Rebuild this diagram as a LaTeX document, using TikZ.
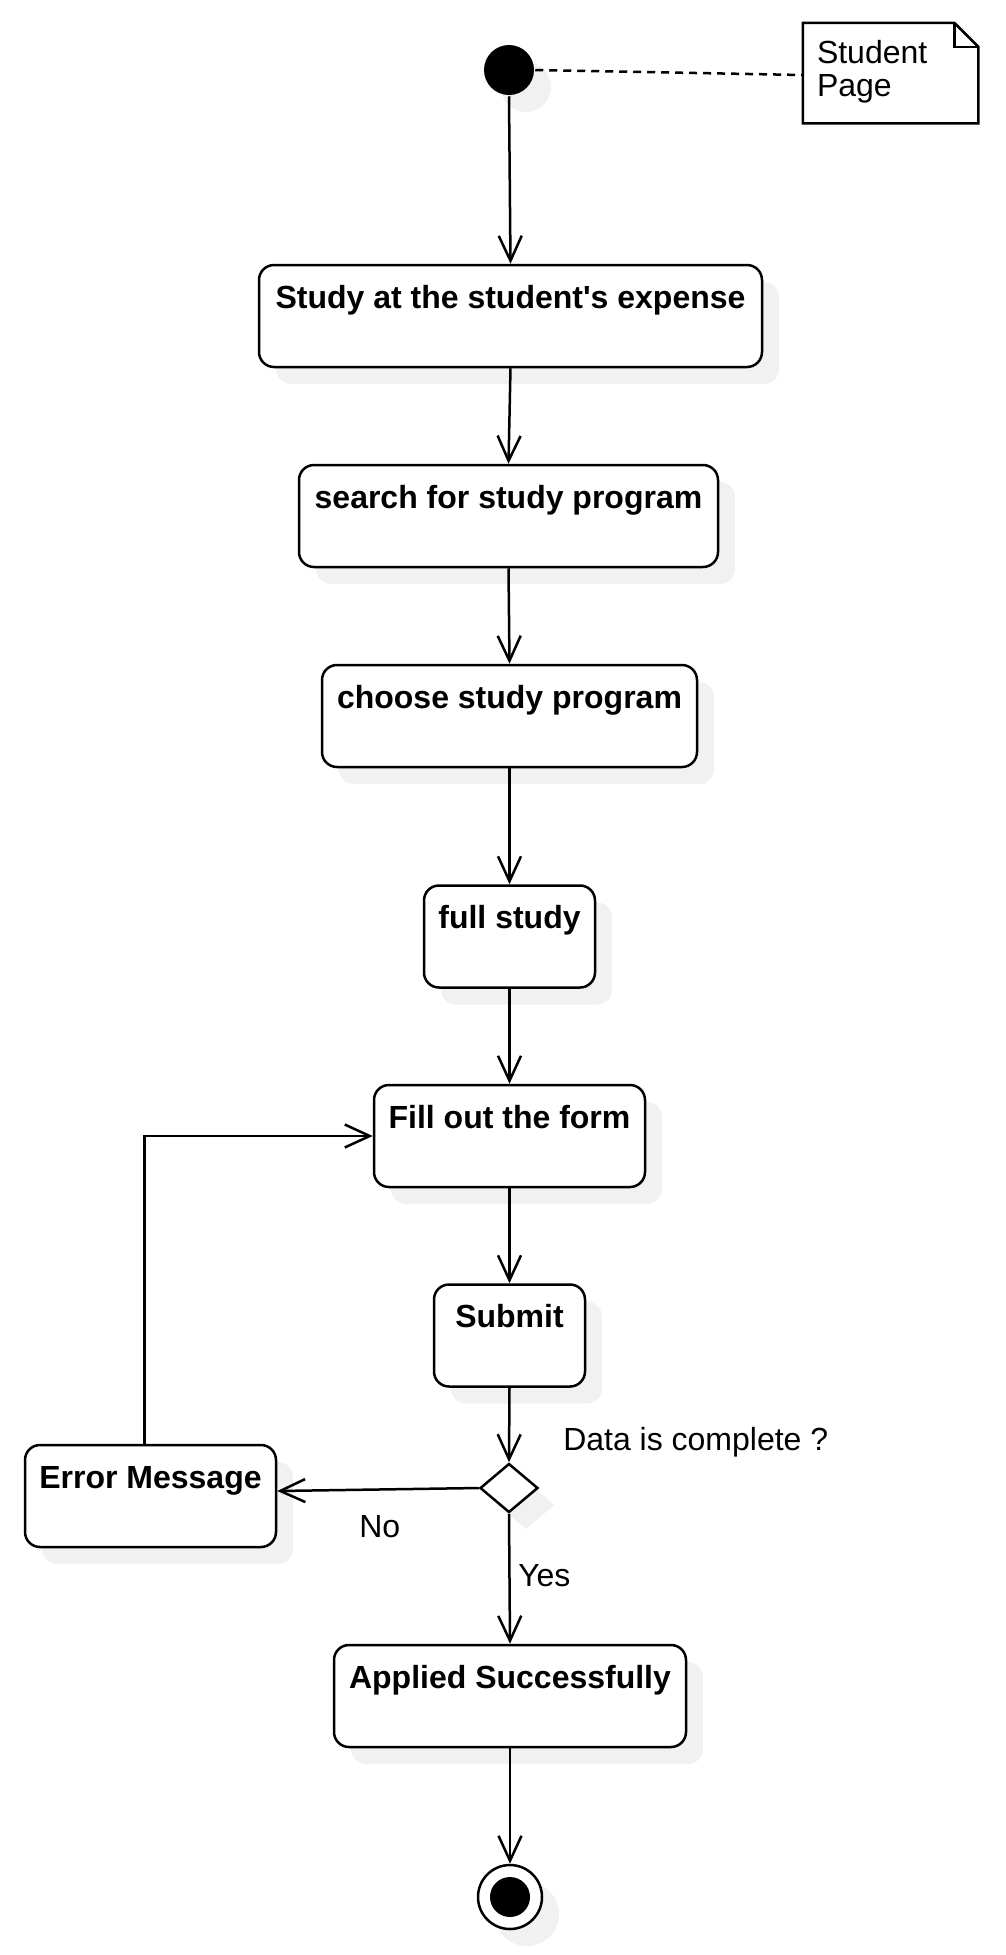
\documentclass[tikz,border=0pt]{standalone}
\usepackage{fontspec}
\setmainfont{Liberation Sans}
\usetikzlibrary{arrows.meta,shapes.geometric,shadows}
\definecolor{shadowc}{RGB}{241,241,241}
\begin{document}
\begin{tikzpicture}[x=1pt,y=-1pt,line width=2.5pt,
  shd/.style={drop shadow={shadow xshift=17pt,shadow yshift=-17pt,fill=shadowc,opacity=1}},
  act/.style={draw,rounded corners=15pt,fill=white,shd,minimum height=102pt,
    inner xsep=0pt,inner ysep=0pt,text height=43pt,text depth=59pt,
    font=\fontsize{32}{38}\selectfont\bfseries,align=center},
  flow/.style={-{Straight Barb[length=25pt,width=23pt]}},
  lbl/.style={font=\fontsize{32}{38}\selectfont,inner sep=0pt},
  notebox/.style={minimum width=173pt,text width=147pt,inner xsep=13pt,inner ysep=0pt,
    text height=39pt,text depth=59pt,align=left,font=\fontsize{32}{33}\selectfont}
]
\useasboundingbox (0,0) rectangle (1005,1955);

% start and note
\node[circle,fill=black,minimum size=50pt,inner sep=0pt,shd] (start) at (509,70) {};
\node[notebox] (note) at (890.5,73) {Student\\Page};
\draw (note.north west) -- ([xshift=-24pt]note.north east) -- ([yshift=-24pt]note.north east)
  -- (note.south east) -- (note.south west) -- cycle;
\draw ([xshift=-24pt]note.north east) |- ([yshift=-24pt]note.north east);
\draw[dash pattern=on 8pt off 6pt] (start.east) -- ([yshift=-2pt]note.west);

% activities
\node[act,minimum width=503pt] (b1) at (510.5,316) {Study at the student\textquotesingle s expense};
\node[act,minimum width=419pt] (b2) at (508.5,516) {search for study program};
\node[act,minimum width=375pt] (b3) at (509.5,716) {choose study program};
\node[act,minimum width=171pt] (b4) at (509.5,936.5) {full study};
\node[act,minimum width=271pt] (b5) at (509.5,1136) {Fill out the form};
\node[act,minimum width=151pt] (b6) at (509.5,1335.5) {Submit};
\node[diamond,draw,fill=white,minimum width=58pt,minimum height=49pt,inner sep=0pt,shd] (dec) at (509,1488) {};
\node[act,minimum width=251pt] (err) at (150.5,1496) {Error Message};
\node[act,minimum width=352pt] (app) at (510,1696) {Applied Successfully};
\node[circle,draw,fill=white,minimum size=64pt,inner sep=0pt,shd] (end) at (510,1897) {};
\node[circle,fill=black,minimum size=40pt,inner sep=0pt] (endc) at (end.center) {};

% labels
\node[lbl,anchor=base west] (qlbl) at (562,1450) {Data is complete ?};
\node[lbl,anchor=base west] (nolbl) at (358,1537) {No};
\node[lbl,anchor=base west] (yeslbl) at (517,1586) {Yes};

% connectors
\draw[flow] (start.south) -- (b1.north);
\draw[flow] (b1.south) -- (b2.north);
\draw[flow] (b2.south) -- (b3.north);
\draw[flow] (b3.south) -- (b4.north);
\draw[flow] (b4.south) -- (b5.north);
\draw[flow] (b5.south) -- (b6.north);
\draw[flow] (b6.south) -- (dec.north);
\draw[flow] (dec.west) -- ([yshift=5pt]err.east);
\draw[flow] (dec.south) -- (app.north);
\draw[flow] ([xshift=-6pt]err.north) |- (b5.west);
\draw[flow] (app.south) -- (end.north);
\end{tikzpicture}
\end{document}
